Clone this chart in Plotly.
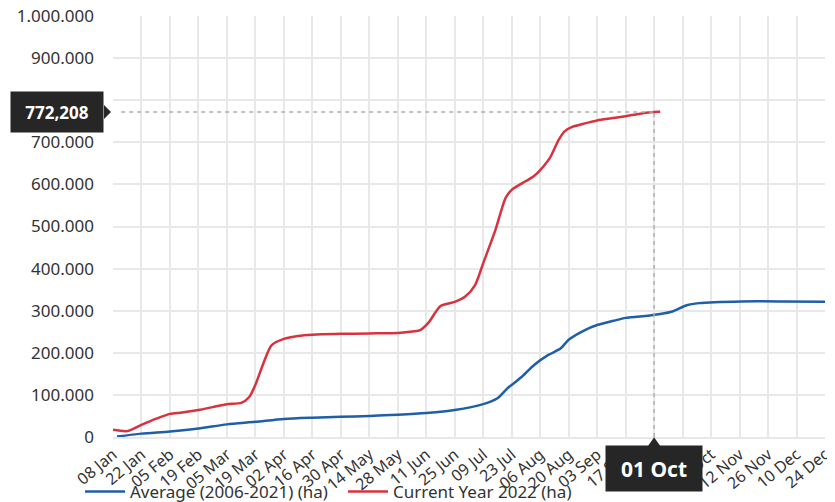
import plotly.graph_objects as go

# ---- data ----
tick_dates = ["2022-01-08", "2022-01-22", "2022-02-05", "2022-02-19", "2022-03-05", "2022-03-19",
              "2022-04-02", "2022-04-16", "2022-04-30", "2022-05-14", "2022-05-28", "2022-06-11",
              "2022-06-25", "2022-07-09", "2022-07-23", "2022-08-06", "2022-08-20", "2022-09-03",
              "2022-09-17", "2022-10-01", "2022-10-15", "2022-10-29", "2022-11-12", "2022-11-26",
              "2022-12-10", "2022-12-24"]
tick_labels = ["08 Jan", "22 Jan", "05 Feb", "19 Feb", "05 Mar", "19 Mar", "02 Apr", "16 Apr",
               "30 Apr", "14 May", "28 May", "11 Jun", "25 Jun", "09 Jul", "23 Jul", "06 Aug",
               "20 Aug", "03 Sep", "17 Sep", "01 Oct", "15 Oct", "29 Oct", "12 Nov", "26 Nov",
               "10 Dec", "24 Dec"]

avg_dates = ["2022-01-10", "2022-01-22", "2022-02-05", "2022-02-19", "2022-03-05", "2022-03-19",
             "2022-04-02", "2022-04-16", "2022-04-30", "2022-05-14", "2022-05-28", "2022-06-11",
             "2022-06-25", "2022-07-09", "2022-07-16", "2022-07-21", "2022-07-28", "2022-08-03",
             "2022-08-10", "2022-08-16", "2022-08-20", "2022-08-28", "2022-09-03", "2022-09-11",
             "2022-09-17", "2022-09-28", "2022-10-04", "2022-10-10", "2022-10-17", "2022-10-23",
             "2022-11-13", "2022-12-03", "2022-12-24"]
avg_values = [1000, 8000, 13000, 20000, 30000, 36000,
              43000, 46000, 48000, 50000, 53000, 57000,
              64000, 78000, 92000, 116000, 143000, 171000,
              195000, 210000, 231000, 254000, 266000, 276000,
              283000, 288000, 292000, 298000, 313000, 318000,
              322000, 322000, 321000]

cur_dates = ["2022-01-08", "2022-01-15", "2022-01-22", "2022-01-29", "2022-02-05", "2022-02-11",
             "2022-02-19", "2022-02-26", "2022-03-05", "2022-03-12", "2022-03-16", "2022-03-19",
             "2022-03-23", "2022-03-27", "2022-04-02", "2022-04-09", "2022-04-16", "2022-04-30",
             "2022-05-14", "2022-05-28", "2022-06-03", "2022-06-08", "2022-06-12", "2022-06-18",
             "2022-06-25", "2022-06-30", "2022-07-05", "2022-07-09", "2022-07-15", "2022-07-20",
             "2022-07-23", "2022-07-30", "2022-08-03", "2022-08-06", "2022-08-11", "2022-08-15",
             "2022-08-18", "2022-08-22", "2022-08-28", "2022-09-03", "2022-09-10", "2022-09-17",
             "2022-09-24", "2022-10-01", "2022-10-04"]
cur_values = [17000, 14000, 29000, 43000, 55000, 58000,
              64000, 71000, 78000, 81000, 95000, 124000,
              176000, 218000, 233000, 240000, 243000, 245000,
              246000, 247000, 250000, 254000, 271000, 311000,
              321000, 333000, 361000, 413000, 492000, 568000,
              587000, 608000, 620000, 634000, 665000, 705000,
              726000, 737000, 745000, 752000, 757000, 762000,
              768000, 772208, 772400]

series_names = ["Average (2006-2021) (ha)", "Current Year 2022 (ha)"]
hover_date = "2022-10-01"
hover_date_label = "01 Oct"
hover_value = 772208
hover_value_label = "772,208"

BLUE = "#1f5fa8"
RED = "#d8323f"
TEXT = "#333333"
GRID = "#e8e8e8"
TIP = "#262626"
DASH = "#b0b0b0"
FONT = "Noto Sans"

# the page body adds an 8px offset, so the figure is 8px smaller than the window
W, H = 827, 494

fig = go.Figure()
fig.add_trace(go.Scatter(x=avg_dates, y=avg_values, mode="lines", name=series_names[0],
                         line=dict(color=BLUE, width=2.5, shape="spline", smoothing=0.7)))
fig.add_trace(go.Scatter(x=cur_dates, y=cur_values, mode="lines", name=series_names[1],
                         line=dict(color=RED, width=2.5, shape="spline", smoothing=0.7)))

# crosshair dashed lines
fig.add_shape(type="line", xref="x", yref="y", x0="2022-01-12", x1=hover_date,
              y0=hover_value, y1=hover_value,
              line=dict(color=DASH, width=1.5, dash="4px,4px"))
fig.add_shape(type="line", xref="x", yref="y", x0=hover_date, x1=hover_date,
              y0=0, y1=hover_value,
              line=dict(color=DASH, width=1.5, dash="4px,4px"))

# tooltip boxes
fig.add_annotation(xref="paper", yref="y", x=-0.0787, y=hover_value, text="<b>%s</b>" % hover_value_label,
                   showarrow=False, bgcolor=TIP, width=90, height=38, xanchor="center", yanchor="middle",
                   font=dict(family=FONT, size=17, color="white"))
fig.add_shape(type="path", xref="paper", yref="y", xsizemode="pixel", ysizemode="pixel",
              xanchor=-0.0112, yanchor=hover_value, path="M -1,7 L 6,0 L -1,-7 Z",
              fillcolor=TIP, line=dict(width=0))
fig.add_annotation(xref="x", yref="paper", x=hover_date, y=-0.0748, text="<b>%s</b>" % hover_date_label,
                   showarrow=False, bgcolor=TIP, width=94, height=43, xanchor="center", yanchor="middle",
                   font=dict(family=FONT, size=21, color="white"))
fig.add_shape(type="path", xref="x", yref="paper", xsizemode="pixel", ysizemode="pixel",
              xanchor=hover_date, yanchor=-0.022, path="M -7,-1 L 0,9 L 7,-1 Z",
              fillcolor=TIP, line=dict(width=0))

fig.update_layout(
    width=W, height=H,
    margin=dict(l=105, r=10, t=8, b=65, autoexpand=False),
    paper_bgcolor="white", plot_bgcolor="white",
    separators=",.",
    font=dict(family=FONT, color=TEXT, size=16),
    showlegend=True,
    legend=dict(orientation="h", xref="container", yref="container",
                x=72 / W, xanchor="left", y=10 / H, yanchor="middle",
                font=dict(family=FONT, size=17, color=TEXT), itemwidth=40,
                entrywidth=208, entrywidthmode="pixels",
                bgcolor="rgba(0,0,0,0)"),
    hovermode=False,
)
fig.update_xaxes(type="date", range=[tick_dates[0], tick_dates[-1]],
                 tickmode="array", tickvals=tick_dates, ticktext=tick_labels,
                 tickangle=-40, tickfont=dict(family=FONT, size=16, color=TEXT),
                 showgrid=True, gridcolor=GRID, gridwidth=2, automargin=False,
                 showline=True, linecolor=GRID, linewidth=2, ticks="", zeroline=False)
fig.update_yaxes(range=[0, 1000000], dtick=100000, tickformat=",",
                 tickfont=dict(family=FONT, size=17, color=TEXT), automargin=False,
                 ticklabeloverflow="allow",
                 showgrid=True, gridcolor=GRID, gridwidth=2,
                 zeroline=False, showline=False, ticks="", ticklabelstandoff=18)

fig.write_html("out.html")
